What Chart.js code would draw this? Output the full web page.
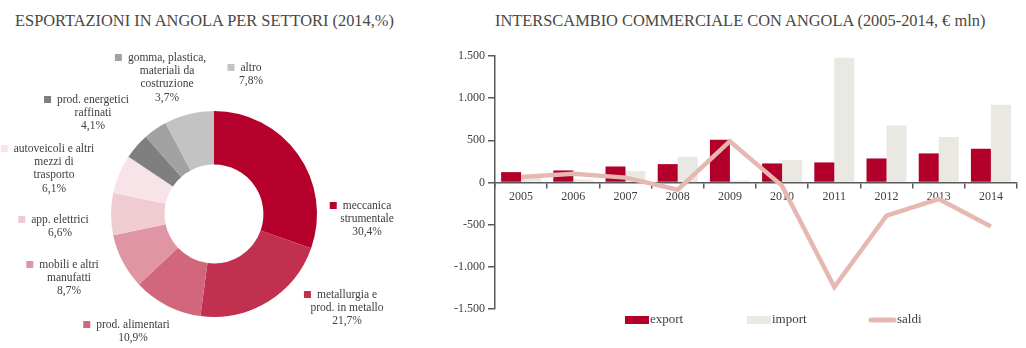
<!DOCTYPE html>
<html>
<head>
<meta charset="utf-8">
<script src="https://cdn.jsdelivr.net/npm/chart.js@4/dist/chart.umd.min.js"></script>
<style>
  body { margin: 0; background: #fff; }
  #wrap { position: relative; width: 1026px; height: 348px; overflow: hidden; }
  .title { position: absolute; top: 11px; font: 16.4px "Liberation Serif", serif; line-height: 20px; color: #4a4744; white-space: nowrap; }
  canvas { position: absolute; top: 0; }
</style>
</head>
<body>
<div id="wrap">
  <div class="title" style="left:15px">ESPORTAZIONI IN ANGOLA PER SETTORI (2014,%)</div>
  <div class="title" id="rtitle" style="left:495px">INTERSCAMBIO COMMERCIALE CON ANGOLA (2005-2014, € mln)</div>
  <canvas id="pie" width="430" height="348" style="left:0"></canvas>
  <canvas id="bars" width="596" height="348" style="left:430px"></canvas>
</div>
<script>
// --- data ---
const sectors = [
  ["meccanica", "strumentale"],
  ["metallurgia e", "prod. in metallo"],
  ["prod. alimentari"],
  ["mobili e altri", "manufatti"],
  ["app. elettrici"],
  ["autoveicoli e altri", "mezzi di", "trasporto"],
  ["prod. energetici", "raffinati"],
  ["gomma, plastica,", "materiali da", "costruzione"],
  ["altro"]
];
const shares = [30.4, 21.7, 10.9, 8.7, 6.6, 6.1, 4.1, 3.7, 7.8];

const years = ["2005", "2006", "2007", "2008", "2009", "2010", "2011", "2012", "2013", "2014"];
const exportValues = [123, 143, 190, 218, 508, 226, 238, 285, 345, 400];
const importValues = [55, 35, 135, 305, 22, 266, 1480, 676, 541, 922];
const saldiValues = [65, 105, 58, -85, 490, -40, -1240, -392, -196, -522];

// --- styles ---
const sectorColors = ["#B4002A", "#C2304F", "#D2667A", "#DF95A3", "#EFCCD2", "#F8E4E8", "#7F7F7F", "#A2A2A2", "#C3C3C3"];
// label anchor (first line centre) relative to the doughnut centre
const labelOffsets = [[153, -8], [133, 81], [-81, 111], [-145, 51], [-154, 6], [-160, -65], [-121, -114], [-47, -156], [37, -146]];
const serif = "'Liberation Serif', serif";
const axisColor = "#595959";
const textColor = "#3d3d3d";

const fmtIt = (v) => {
  const s = Math.abs(v).toString().replace(/\B(?=(\d{3})+(?!\d))/g, ".");
  return (v < 0 ? "-" : "") + s;
};

const sectorLabels = {
  id: "sectorLabels",
  afterDraw(chart) {
    const ctx = chart.ctx;
    const arcs = chart.getDatasetMeta(0).data;
    ctx.save();
    ctx.font = "11.5px " + serif;
    ctx.textAlign = "center";
    ctx.textBaseline = "middle";
    arcs.forEach((arc, i) => {
      const ax = arc.x + labelOffsets[i][0];
      const ay = arc.y + labelOffsets[i][1];
      const lines = sectors[i].concat([shares[i].toFixed(1).replace(".", ",") + "%"]);
      ctx.fillStyle = textColor;
      lines.forEach((t, j) => ctx.fillText(t, ax, ay + j * 13.2));
      const w = ctx.measureText(lines[0]).width;
      ctx.fillStyle = sectorColors[i];
      ctx.fillRect(ax - w / 2 - 13, ay - 4, 7, 7);
    });
    ctx.restore();
  }
};

new Chart(document.getElementById("pie"), {
  type: "doughnut",
  data: {
    labels: sectors.map((s) => s.join(" ")),
    datasets: [{ data: shares, backgroundColor: sectorColors, borderWidth: 0 }]
  },
  options: {
    responsive: false,
    animation: false,
    cutout: "48%",
    layout: { padding: { left: 111, top: 111, right: 113, bottom: 31 } },
    plugins: { legend: { display: false }, tooltip: { enabled: false } }
  },
  plugins: [sectorLabels]
});

const bottomLegend = {
  id: "bottomLegend",
  afterDraw(chart) {
    const { ctx, chartArea } = chart;
    const w = chartArea.right - chartArea.left;
    const y = chartArea.bottom + 11;
    ctx.save();
    ctx.font = "13px " + serif;
    ctx.textBaseline = "middle";
    ctx.textAlign = "left";
    chart.data.datasets.forEach((ds, i) => {
      const x = chartArea.left + w * (0.249 + i * 0.2337);
      if (ds.type === "line") {
        ctx.strokeStyle = ds.borderColor;
        ctx.lineWidth = 5;
        ctx.lineCap = "round";
        ctx.beginPath();
        ctx.moveTo(x + 2, y);
        ctx.lineTo(x + 25, y);
        ctx.stroke();
        ctx.fillStyle = textColor;
        ctx.fillText(ds.label, x + 28, y);
      } else {
        ctx.fillStyle = ds.backgroundColor;
        ctx.fillRect(x, y - 4, 24, 8);
        ctx.fillStyle = textColor;
        ctx.fillText(ds.label, x + 25, y);
      }
    });
    ctx.restore();
  }
};

new Chart(document.getElementById("bars"), {
  type: "bar",
  data: {
    labels: years,
    datasets: [
      { label: "export", data: exportValues, backgroundColor: "#B3002A", borderWidth: 0, order: 1 },
      { label: "import", data: importValues, backgroundColor: "#E9E8E3", borderWidth: 0, order: 1 },
      {
        type: "line", label: "saldi", data: saldiValues,
        borderColor: "#E6B8B1", borderWidth: 4.5, pointRadius: 0, tension: 0, order: 0
      }
    ]
  },
  options: {
    responsive: false,
    animation: false,
    categoryPercentage: 0.766,
    barPercentage: 1,
    layout: { padding: { left: 0, top: 56, right: 9, bottom: 39 } },
    scales: {
      x: {
        position: { y: 0 },
        offset: true,
        grid: { offset: true, drawOnChartArea: false, drawTicks: true, tickLength: 5, color: axisColor, lineWidth: 1.5 },
        border: { color: axisColor, width: 1.5 },
        ticks: { font: { family: serif, size: 12 }, color: textColor, padding: 2, maxRotation: 0 }
      },
      y: {
        min: -1500,
        max: 1500,
        grid: { drawOnChartArea: false, tickLength: 7, color: axisColor, lineWidth: 1.5 },
        border: { color: axisColor, width: 1.5 },
        ticks: { stepSize: 500, callback: fmtIt, font: { family: serif, size: 12 }, color: textColor, padding: 3 },
        afterFit: (s) => { s.width = 65; }
      }
    },
    plugins: { legend: { display: false }, tooltip: { enabled: false } }
  },
  plugins: [bottomLegend]
});
</script>
</body>
</html>
